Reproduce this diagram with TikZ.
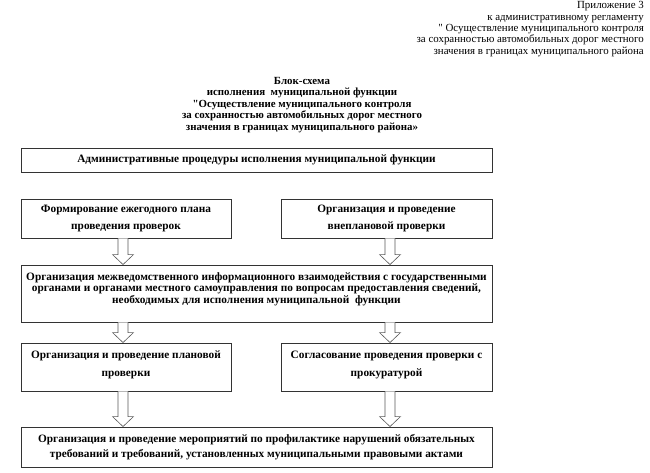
\documentclass[tikz,border=0pt]{standalone}
\usepackage{fontspec}
\setmainfont{Liberation Serif}
\usetikzlibrary{calc}
\newcommand{\dropby}[1]{\rule[-#1]{0pt}{#1}}
\tikzset{
  box/.style={draw=black!80, line width=0.9pt, fill=white, align=center, inner sep=0pt,
    font=\fontsize{11.3}{11.3}\selectfont\bfseries},
  arrline/.style={draw=black!65, line width=0.6pt, fill=white},
}
\newcommand{\harrow}[3]{%
  \draw[arrline] let \p1=($(#1.south)+(#3,0)$), \p2=(#2.north) in
    (\x1-5pt,\y1) -- (\x1-5pt,\y2+10pt) -- (\x1-10.5pt,\y2+10pt) -- (\x1,\y2)
    -- (\x1+10.5pt,\y2+10pt) -- (\x1+5pt,\y2+10pt) -- (\x1+5pt,\y1);}
\begin{document}
\begin{tikzpicture}[x=1pt,y=-1pt]
\useasboundingbox (0,0) rectangle (650,472);
\node[anchor=north east, align=right, inner sep=0pt, font=\fontsize{10.9}{11.3}\selectfont] (hdr) at (644,1.5)
 {Приложение 3\\к административному регламенту\\\textquotedbl{} Осуществление муниципального контроля\\за сохранностью автомобильных дорог местного\\значения в границах муниципального района};
\node[anchor=north, align=center, inner sep=0pt, font=\fontsize{10.9}{11.5}\selectfont\bfseries] (title) at (302,77)
 {Блок-схема\\исполнения\ \ муниципальной функции\\\textquotedbl{}Осуществление\ муниципального\ контроля\\за сохранностью автомобильных дорог местного\\значения\ в границах муниципального района»};
\node[box, minimum width=471, minimum height=24] (b1) at (256.5,160)
 {Административные процедуры исполнения муниципальной функции};
\node[box, minimum width=210, minimum height=39, font=\fontsize{11.3}{17}\selectfont\bfseries] (b2l) at (126,218.5)
 {Формирование ежегодного плана\\проведения проверок};
\node[box, minimum width=211, minimum height=39, font=\fontsize{11.3}{17}\selectfont\bfseries] (b2r) at (386.5,218.5)
 {Организация и проведение\\внеплановой проверки};
\node[box, minimum width=471, minimum height=57] (b3) at (256.5,293.5)
 {Организация межведомственного информационного взаимодействия с государственными\\органами и органами местного самоуправления по вопросам предоставления сведений,\\необходимых для исполнения муниципальной\ \ функции\dropby{11pt}};
\node[box, minimum width=210, minimum height=48, font=\fontsize{11.3}{18}\selectfont\bfseries] (b4l) at (126,367)
 {Организация и проведение плановой\\проверки\dropby{6pt}};
\node[box, minimum width=211, minimum height=48, font=\fontsize{11.3}{18}\selectfont\bfseries] (b4r) at (386.5,367)
 {Согласование проведения проверки с\\прокуратурой\dropby{6pt}};
\node[box, minimum width=471, minimum height=40, font=\fontsize{11.3}{15}\selectfont\bfseries] (b5) at (256.5,447)
 {Организация и проведение мероприятий по профилактике нарушений обязательных\\требований и требований, установленных муниципальными правовыми актами\dropby{3pt}};
\harrow{b2l}{b3}{-3}
\harrow{b2r}{b3}{3.5}
\harrow{b3}{b4l}{-133.5}
\harrow{b3}{b4r}{133.5}
\harrow{b4l}{b5}{-3}
\harrow{b4r}{b5}{3.5}
\end{tikzpicture}
\end{document}
